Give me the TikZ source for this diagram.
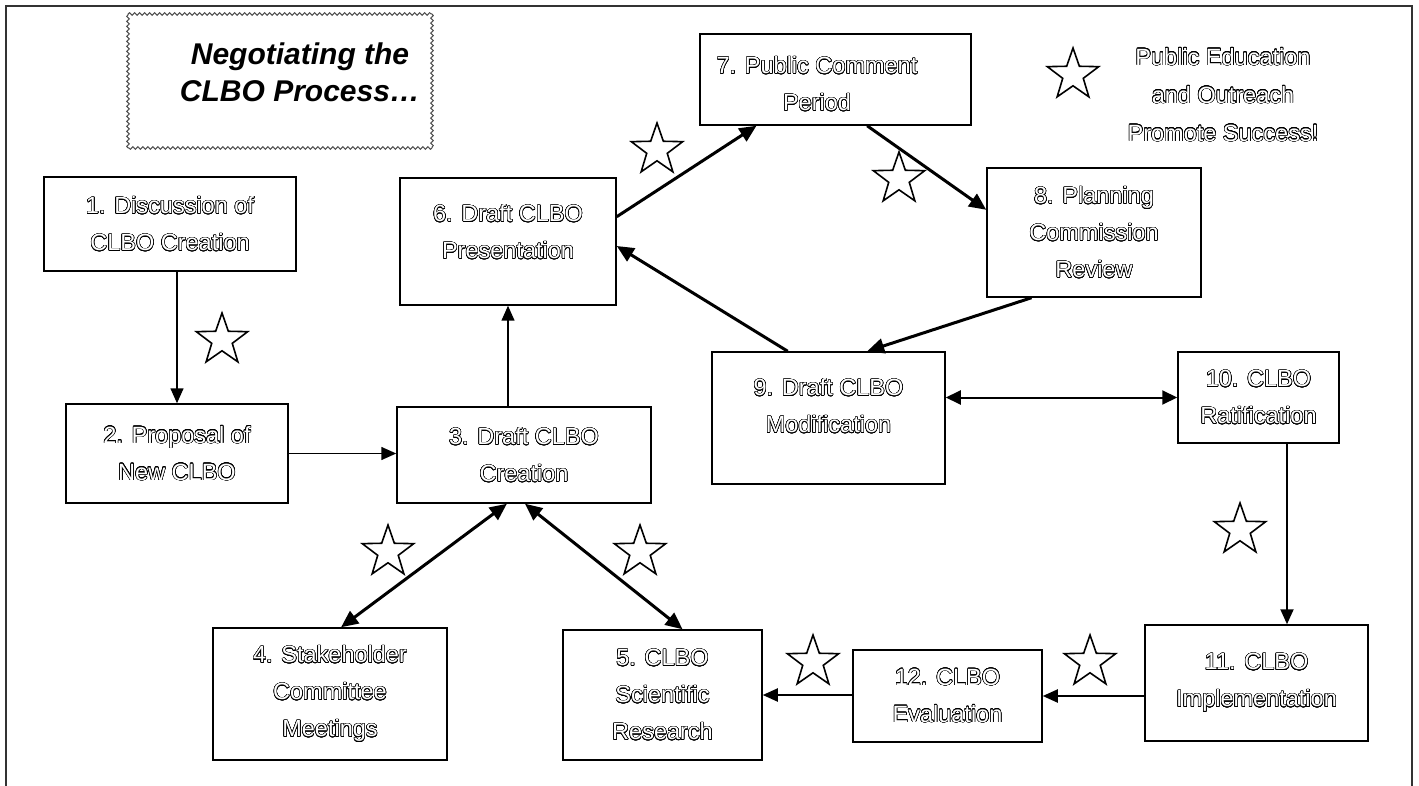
\documentclass[tikz,border=0pt]{standalone}
\usepackage{fontspec}
\setmainfont{Liberation Sans}
\usepackage[copies]{contour}
\contourlength{0.55pt}
\contournumber{24}
\usetikzlibrary{arrows.meta,shapes.geometric,decorations.pathmorphing,calc}
% hollow (outlined) lettering
\newcommand\hol[1]{\contour{black}{#1}}

\tikzset{
  steptext/.style={text=white, align=center, font=\fontsize{23.5}{37}\selectfont, inner sep=0pt},
  stepbox/.style={steptext, draw, line width=1.5pt, rectangle},
  hint/.style={star, star points=5, star point ratio=2.5, draw, line width=1.6pt,
    minimum size=54pt, inner sep=0pt},
  wavy/.style={decorate, decoration={snake, segment length=5pt, amplitude=1.3pt},
    line width=1pt, black!70},
  thinlink/.style={line width=1.5pt, -{Triangle[length=15pt,width=13pt]}},
  link/.style={line width=2pt, -{Triangle[length=15pt,width=13pt]}},
  biglink/.style={line width=3pt, -{Triangle[length=17pt,width=15pt]}},
  bothlink/.style={line width=3pt, {Triangle[length=17pt,width=15pt]}-{Triangle[length=17pt,width=15pt]}},
  hbothlink/.style={line width=2pt, {Triangle[length=15pt,width=14pt]}-{Triangle[length=15pt,width=14pt]}},
}

\begin{document}
\begin{tikzpicture}[x=1pt,y=-1pt]
\useasboundingbox (0,0) rectangle (1419,786);
\fill[white] (0,0) rectangle (1419,786);

% outer frame (open at the bottom)
\draw[line width=2pt, black!80] (6,786) -- (6,6) -- (1412,6) -- (1412,786);

% title panel with wavy border, one side at a time
\coordinate (tnw) at (128,14);
\coordinate (tne) at (432,14);
\coordinate (tse) at (432,148);
\coordinate (tsw) at (128,148);
\draw[wavy] (tnw) -- (tne);
\draw[wavy] (tne) -- (tse);
\draw[wavy] (tse) -- (tsw);
\draw[wavy] (tsw) -- (tnw);
\node[font=\fontsize{30}{37}\selectfont\bfseries\itshape, align=center] (title) at (300,72)
  {Negotiating the\\CLBO Process…};

% process steps
\node[stepbox, minimum width=252, minimum height=94]  (b1)  at (170,224)    {\hol{1. Discussion of}\\\hol{CLBO Creation}};
\node[stepbox, minimum width=222, minimum height=99]  (b2)  at (177,453.5)  {\hol{2. Proposal of}\\\hol{New CLBO}};
\node[stepbox, minimum width=254, minimum height=96]  (b3)  at (524,455)    {\hol{3. Draft CLBO}\\\hol{Creation}};
\node[stepbox, minimum width=234, minimum height=132] (b4)  at (330,694)    {\hol{4. Stakeholder}\\\hol{Committee}\\\hol{Meetings}};
\node[stepbox, minimum width=199, minimum height=130] (b5)  at (662.5,695)  {\hol{5. CLBO}\\\hol{Scientific}\\\hol{Research}};
\node[stepbox, minimum width=216, minimum height=127] (b6)  at (508,241.5)  {};
\node[steptext] (t6) at (508,232) {\hol{6. Draft CLBO}\\\hol{Presentation}};
\node[stepbox, minimum width=271, minimum height=91]  (b7)  at (835.5,79.5) {};
\node[steptext] (t7) at (817,84) {\hol{7. Public Comment}\\\hol{Period}};
\node[stepbox, minimum width=214, minimum height=129] (b8)  at (1094,232.5) {\hol{8. Planning}\\\hol{Commission}\\\hol{Review}};
\node[stepbox, minimum width=233, minimum height=132] (b9)  at (828.5,418)  {};
\node[steptext] (t9) at (828.5,406) {\hol{9. Draft CLBO}\\\hol{Modification}};
\node[stepbox, minimum width=161, minimum height=91]  (b10) at (1258.5,397.5) {\hol{10. CLBO}\\\hol{Ratification}};
\node[stepbox, minimum width=223, minimum height=116] (b11) at (1256.5,683) {\hol{11. CLBO}\\\hol{Implementation}};
\node[stepbox, minimum width=189, minimum height=92]  (b12) at (947.5,696)  {\hol{12. CLBO}\\\hol{Evaluation}};

% legend
\node[hint] (sl) at (1073,75) {};
\node[steptext, font=\fontsize{23.5}{38}\selectfont] (legend) at (1223,95)
  {\hol{Public Education}\\\hol{and Outreach}\\\hol{Promote Success!}};

% outreach stars along the way
\node[hint] (s12)  at (222,340) {};
\node[hint] (s67)  at (657,150) {};
\node[hint] (s78)  at (899,179) {};
\node[hint] (s34)  at (388,552) {};
\node[hint] (s35)  at (640,552) {};
\node[hint] (s1011) at (1240,530) {};
\node[hint] (s1112) at (1090,662) {};
\node[hint] (s125) at (813,662) {};

% connectors
\coordinate (c11) at (1287,0);
\draw[thinlink] (b1.south -| b2.north) -- (b2.north);
\draw[thinlink] (b2.east) -- (b2.east -| b3.west);
\draw[thinlink] (b3.north -| b6.south) -- (b6.south);
\draw[bothlink] ($(b4.north west)!0.547!(b4.north east)$) -- ($(b3.south west)!0.433!(b3.south east)$);
\draw[bothlink] ($(b3.south west)!0.504!(b3.south east)$) -- ($(b5.north west)!0.60!(b5.north east)$);
\draw[biglink] ($(b6.north east)!0.307!(b6.south east)$) -- ($(b7.south west)!0.21!(b7.south east)$);
\draw[biglink] ($(b7.south west)!0.616!(b7.south east)$) -- ($(b8.north west)!0.326!(b8.south west)$);
\draw[biglink] ($(b8.south west)!0.21!(b8.south east)$) -- ($(b9.north west)!0.665!(b9.north east)$);
\draw[biglink] ($(b9.north west)!0.326!(b9.north east)$) -- ($(b6.north east)!0.535!(b6.south east)$);
\draw[hbothlink] (b9.east |- b10.west) -- (b10.west);
\draw[link] (b10.south -| c11) -- (b11.north -| c11);
\draw[link] (b11.west |- b12.east) -- (b12.east);
\draw[link] (b12.west |- b5.east) -- (b5.east);
\end{tikzpicture}
\end{document}
